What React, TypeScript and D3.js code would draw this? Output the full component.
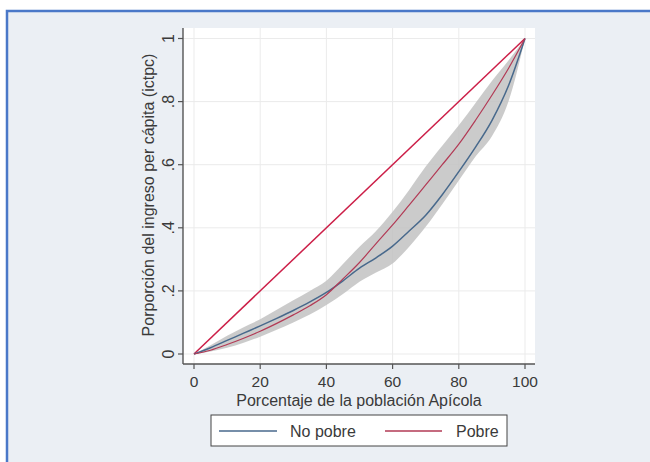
import * as d3 from "d3";

// percentiles of the population (x)
const pct = [0, 5, 10, 15, 20, 25, 30, 35, 40, 45, 50, 55, 60, 65, 70, 75, 80, 85, 90, 95, 100];

// Lorenz curve, No pobre
const noPobre = [0, 0.02, 0.043, 0.066, 0.089, 0.113, 0.138, 0.165, 0.195, 0.232, 0.272, 0.305, 0.342, 0.39, 0.44, 0.505, 0.578, 0.655, 0.74, 0.85, 1];
// Lorenz curve, Pobre
const pobre = [0, 0.012, 0.03, 0.05, 0.072, 0.097, 0.124, 0.153, 0.188, 0.238, 0.29, 0.35, 0.409, 0.472, 0.536, 0.6, 0.665, 0.74, 0.82, 0.905, 1];
// confidence band
const bandHi = [0, 0.028, 0.058, 0.085, 0.11, 0.14, 0.17, 0.2, 0.232, 0.285, 0.34, 0.39, 0.451, 0.52, 0.594, 0.66, 0.725, 0.795, 0.865, 0.93, 1];
const bandLo = [0, 0.008, 0.02, 0.036, 0.055, 0.077, 0.1, 0.125, 0.155, 0.19, 0.229, 0.258, 0.287, 0.34, 0.403, 0.475, 0.55, 0.625, 0.69, 0.8, 1];

const xTicks = [0, 20, 40, 60, 80, 100];
const yTicks = [0, 0.2, 0.4, 0.6, 0.8, 1];
const yTickLabels = ["0", ".2", ".4", ".6", ".8", "1"];

const font = "'Liberation Sans', Arial, sans-serif";

export default function App() {
    const width = 650;
    const height = 462;

    const plot = { left: 183, right: 535, top: 28, bottom: 364 };

    const x = d3.scaleLinear([0, 100], [194, 525]);
    const y = d3.scaleLinear([0, 1], [354, 38.5]);

    const line = (vals: number[]) =>
        d3
            .line<number>()
            .x((d, i) => x(pct[i]))
            .y((d) => y(d))
            .curve(d3.curveMonotoneX)(vals) ?? "";

    const band =
        d3
            .area<number>()
            .x((d, i) => x(pct[i]))
            .y0((d, i) => y(bandLo[i]))
            .y1((d) => y(d))
            .curve(d3.curveMonotoneX)(bandHi) ?? "";

    const textColor = "#3a3a3a";
    const fs = 16;

    return (
        <svg
            width={width}
            height={height}
            style={{ position: "absolute", left: 0, top: 0 }}
        >
            <rect x={0} y={0} width={width} height={height} fill="#ffffff" />
            {/* frame */}
            <rect x={7} y={11} width={680} height={480} fill="#ebeff4" stroke="#4a78c8" strokeWidth={2.5} />

            {/* plot region */}
            <rect
                x={plot.left}
                y={plot.top}
                width={plot.right - plot.left}
                height={plot.bottom - plot.top}
                fill="#ffffff"
            />

            {/* grid */}
            {xTicks.map((t) => (
                <line key={"gx" + t} x1={x(t)} x2={x(t)} y1={plot.top} y2={plot.bottom} stroke="#ebebeb" strokeWidth={1} />
            ))}
            {yTicks.map((t) => (
                <line key={"gy" + t} x1={plot.left} x2={plot.right} y1={y(t)} y2={y(t)} stroke="#ebebeb" strokeWidth={1} />
            ))}

            {/* band */}
            <path d={band} fill="#c2c2c2" opacity={0.85} />

            {/* equality line */}
            <line x1={x(0)} y1={y(0)} x2={x(100)} y2={y(1)} stroke="#cc1f48" strokeWidth={1.5} />

            <path d={line(noPobre)} fill="none" stroke="#48698c" strokeWidth={1.5} />
            <path d={line(pobre)} fill="none" stroke="#b23a55" strokeWidth={1.2} />

            {/* axes */}
            <line x1={plot.left} x2={plot.left} y1={plot.top} y2={plot.bottom} stroke="#555" strokeWidth={1.4} />
            <line x1={plot.left} x2={plot.right} y1={plot.bottom} y2={plot.bottom} stroke="#555" strokeWidth={1.4} />

            {yTicks.map((t, i) => (
                <g key={"yt" + t}>
                    <line x1={plot.left - 5} x2={plot.left} y1={y(t)} y2={y(t)} stroke="#555" strokeWidth={1.2} />
                    <text
                        transform={`translate(174,${y(t)}) rotate(-90)`}
                        textAnchor="middle"
                        fontFamily={font}
                        fontSize={fs}
                        fill={textColor}
                    >
                        {yTickLabels[i]}
                    </text>
                </g>
            ))}
            {xTicks.map((t) => (
                <g key={"xt" + t}>
                    <line x1={x(t)} x2={x(t)} y1={plot.bottom} y2={plot.bottom + 5} stroke="#555" strokeWidth={1.2} />
                    <text x={x(t)} y={387} textAnchor="middle" fontFamily={font} fontSize={15.5} fill={textColor}>
                        {t}
                    </text>
                </g>
            ))}

            <text x={359} y={406} textAnchor="middle" fontFamily={font} fontSize={fs} fill={textColor}>
                Porcentaje de la población Apícola
            </text>
            <text
                transform="translate(154,195) rotate(-90)"
                textAnchor="middle"
                fontFamily={font}
                fontSize={fs}
                fill={textColor}
            >
                Porporción del ingreso per cápita (ictpc)
            </text>

            {/* legend */}
            <rect x={211} y={415} width={296} height={31} fill="#ffffff" stroke="#444" strokeWidth={1} />
            <line x1={219} x2={277} y1={431} y2={431} stroke="#48698c" strokeWidth={1.5} />
            <text x={290} y={437} fontFamily={font} fontSize={fs} fill={textColor}>
                No pobre
            </text>
            <line x1={385} x2={442} y1={431} y2={431} stroke="#b23a55" strokeWidth={1.5} />
            <text x={456} y={437} fontFamily={font} fontSize={fs} fill={textColor}>
                Pobre
            </text>
        </svg>
    );
}
